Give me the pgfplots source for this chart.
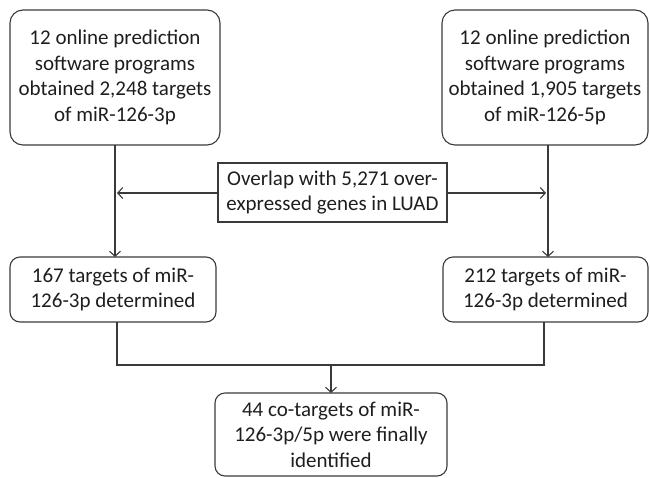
\documentclass[border=0pt]{standalone}
\usepackage{fontspec}
\setmainfont{Carlito}
\usepackage{pgfplots}
\pgfplotsset{compat=1.18}
\usetikzlibrary{arrows.meta}
\definecolor{edge}{HTML}{3A3A3A}
\definecolor{ink}{HTML}{1E1E1E}
\begin{document}
\begin{tikzpicture}
\begin{axis}[
  scale only axis, width=650pt, height=477pt,
  xmin=0, xmax=650, ymin=0, ymax=477, y dir=reverse,
  hide axis, clip=false,
]
% boxes (pixel coordinates of the reference, y down)
\tikzset{box/.style={draw=edge, line width=1.1pt, text=ink, align=center,
  inner sep=0pt, font=\fontsize{21}{25.5}\selectfont},
  rbox/.style={box, rounded corners=13pt}}
\draw[draw=none] (axis cs:0,0) rectangle (axis cs:650,477);
\node[rbox, minimum width=210pt, minimum height=135pt] at (axis cs:115,77.5)
  {12 online prediction\\software programs\\obtained 2,248 targets\\of miR-126-3p};
\node[rbox, minimum width=206pt, minimum height=135pt] at (axis cs:545,77.5)
  {12 online prediction\\software programs\\obtained 1,905 targets\\of miR-126-5p};
\node[box, minimum width=229pt, minimum height=59pt] at (axis cs:332.5,192.5)
  {Overlap with 5,271 over-\\expressed genes in LUAD};
\node[rbox, rounded corners=10pt, minimum width=206pt, minimum height=65pt] at (axis cs:113,289.5)
  {167 targets of miR-\\126-3p determined};
\node[rbox, rounded corners=10pt, minimum width=205pt, minimum height=65pt] at (axis cs:545.5,289.5)
  {212 targets of miR-\\126-3p determined};
\node[rbox, rounded corners=10pt, minimum width=232pt, minimum height=83pt] at (axis cs:331,434.5)
  {44 co-targets of miR-\\126-3p/5p were finally\\identified};
% connectors
\pgfplotsset{every axis plot/.append style={draw=edge, line width=1.1pt}}
\addplot[-{Straight Barb[length=5pt,width=11pt]}] coordinates {(115,145) (115,257)};
\addplot[-{Straight Barb[length=5pt,width=11pt]}] coordinates {(548,145) (548,257)};
\addplot[-{Straight Barb[length=5pt,width=11pt]}] coordinates {(218,193) (117,193)};
\addplot[-{Straight Barb[length=5pt,width=11pt]}] coordinates {(447,193) (546,193)};
\addplot[] coordinates {(117,322) (117,365) (544,365) (544,322)};
\addplot[-{Straight Barb[length=5pt,width=11pt]}] coordinates {(331,365) (331,393)};
\end{axis}
\end{tikzpicture}
\end{document}
